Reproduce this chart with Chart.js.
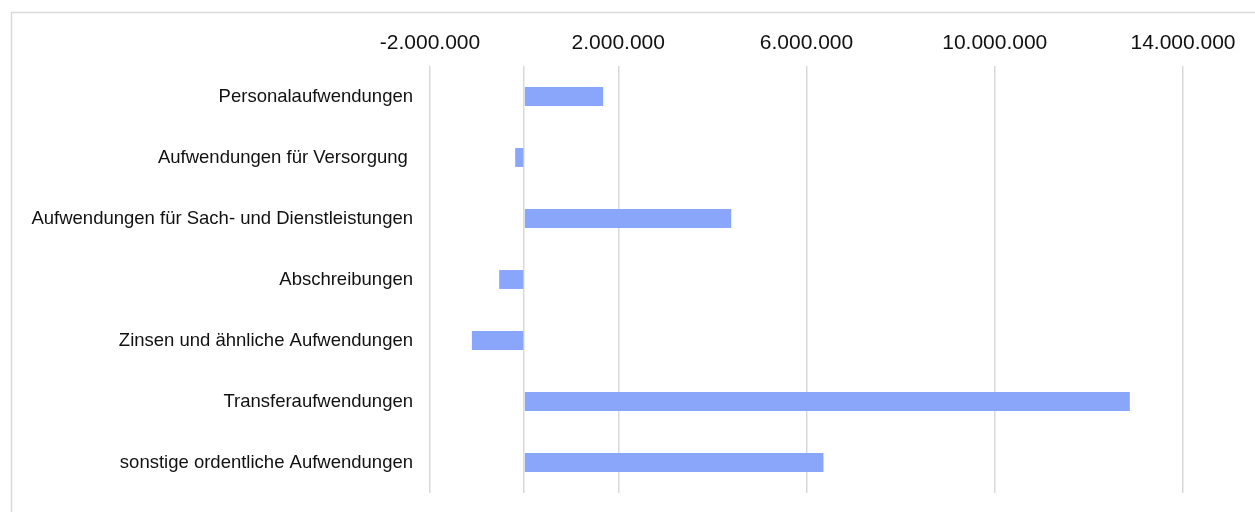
<!DOCTYPE html>
<html lang="de">
<head>
<meta charset="utf-8">
<title>Aufwendungen</title>
<script src="https://cdn.jsdelivr.net/npm/chart.js@4.4.1/dist/chart.umd.min.js"></script>
<style>
  html, body { margin: 0; padding: 0; background: #ffffff; }
  #wrap { position: relative; width: 1255px; height: 512px; }
  canvas { display: block; }
</style>
</head>
<body>
<div id="wrap"><canvas id="chart" width="1255" height="512"></canvas></div>
<script>
// Aufwandsarten (Kategorien)
const categories = [
  'Personalaufwendungen',
  'Aufwendungen für Versorgung ',
  'Aufwendungen für Sach- und Dienstleistungen',
  'Abschreibungen',
  'Zinsen und ähnliche Aufwendungen',
  'Transferaufwendungen',
  'sonstige ordentliche Aufwendungen'
];

// Veränderung je Aufwandsart in Euro
const values = [1680000, -190000, 4400000, -530000, -1110000, 12870000, 6360000];

// Gitterlinien der Werteachse (0 = Kategorienachse, ohne Beschriftung)
const gridValues = [-2000000, 0, 2000000, 6000000, 10000000, 14000000];
const labeledValues = [-2000000, 2000000, 6000000, 10000000, 14000000];

function formatDE(v) {
  const sign = v < 0 ? '-' : '';
  const s = String(Math.abs(Math.round(v)));
  return sign + s.replace(/\B(?=(\d{3})+(?!\d))/g, '.');
}

const frame = {
  id: 'frame',
  beforeDraw(chart) {
    const ctx = chart.ctx;
    ctx.save();
    ctx.strokeStyle = '#d9d9d9';
    ctx.lineWidth = 1.5;
    ctx.strokeRect(11.5, 12.5, 1400, 700);
    ctx.restore();
  }
};

new Chart(document.getElementById('chart'), {
  type: 'bar',
  data: {
    labels: categories,
    datasets: [{
      data: values,
      backgroundColor: '#8aa6fa',
      borderWidth: 0,
      categoryPercentage: 1,
      barPercentage: 0.31
    }]
  },
  options: {
    indexAxis: 'y',
    responsive: false,
    animation: false,
    events: [],
    layout: { padding: { left: 0, right: 72, top: 0, bottom: 19 } },
    plugins: {
      legend: { display: false },
      tooltip: { enabled: false }
    },
    scales: {
      x: {
        position: 'top',
        min: -2000000,
        max: 14000000,
        afterBuildTicks(scale) {
          scale.ticks = gridValues.map(v => ({ value: v }));
        },
        afterFit(scale) { scale.height = 66; },
        border: { display: false },
        grid: {
          color: '#d9d9d9',
          lineWidth: 1.5,
          drawTicks: false
        },
        ticks: {
          autoSkip: false,
          maxRotation: 0,
          padding: 10,
          color: '#111111',
          font: { family: '"Liberation Sans", Arial, sans-serif', size: 21 },
          callback(v) { return labeledValues.includes(v) ? formatDE(v) : ''; }
        }
      },
      y: {
        afterFit(scale) {
          scale.width = 430;
          scale.paddingTop = 0;
          scale.paddingBottom = 0;
        },
        border: { display: false },
        grid: { display: false, drawTicks: false },
        ticks: {
          padding: 17,
          color: '#111111',
          font: { family: '"Liberation Sans", Arial, sans-serif', size: 18.5 }
        }
      }
    }
  },
  plugins: [frame]
});
</script>
</body>
</html>
